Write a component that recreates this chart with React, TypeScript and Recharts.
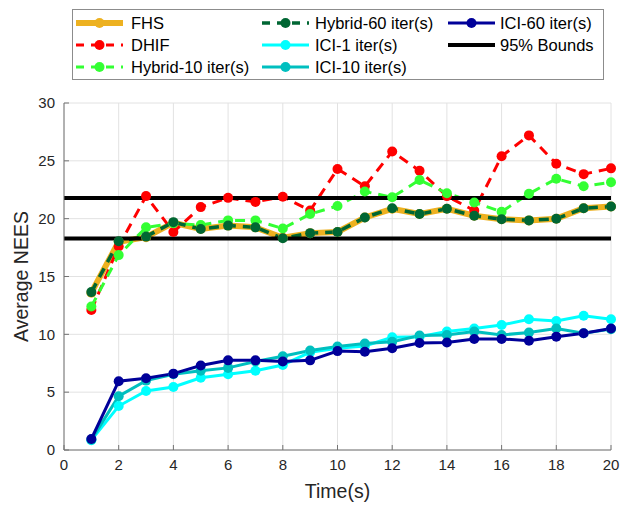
import { LineChart, Line, XAxis, YAxis, CartesianGrid, ReferenceLine } from 'recharts';

const time = [1, 2, 3, 4, 5, 6, 7, 8, 9, 10, 11, 12, 13, 14, 15, 16, 17, 18, 19, 20];

const fhs = [13.6, 18.0, 18.4, 19.65, 19.1, 19.4, 19.25, 18.35, 18.75, 18.85, 20.1, 20.85, 20.4, 20.85, 20.25, 19.95, 19.85, 20.0, 20.9, 21.05];
const dhif = [12.1, 17.6, 21.95, 18.85, 21.0, 21.8, 21.45, 21.9, 20.7, 24.3, 22.8, 25.8, 24.15, 21.95, 20.7, 25.4, 27.2, 24.75, 23.85, 24.35];
const hybrid10 = [12.4, 16.85, 19.25, 19.6, 19.45, 19.85, 19.85, 19.15, 20.4, 21.1, 22.35, 21.85, 23.35, 22.2, 21.4, 20.6, 22.15, 23.45, 22.8, 23.15];
const hybrid60 = [13.65, 18.05, 18.45, 19.7, 19.1, 19.4, 19.25, 18.3, 18.75, 18.85, 20.1, 20.9, 20.4, 20.85, 20.25, 19.95, 19.85, 20.0, 20.9, 21.05];
const ici1 = [0.85, 3.8, 5.1, 5.45, 6.25, 6.55, 6.85, 7.35, 8.45, 8.8, 9.0, 9.75, 9.8, 10.25, 10.5, 10.8, 11.3, 11.15, 11.6, 11.3];
const ici10 = [0.9, 4.65, 6.0, 6.55, 6.85, 7.1, 7.65, 8.1, 8.6, 8.95, 9.2, 9.35, 9.9, 9.95, 10.25, 9.95, 10.15, 10.5, 10.1, 10.45];
const ici60 = [0.95, 5.95, 6.2, 6.6, 7.3, 7.75, 7.75, 7.65, 7.75, 8.55, 8.5, 8.8, 9.25, 9.3, 9.6, 9.6, 9.45, 9.8, 10.1, 10.5];

const upperBound = 21.78;
const lowerBound = 18.28;

const xTicks = [0, 2, 4, 6, 8, 10, 12, 14, 16, 18, 20];
const yTicks = [0, 5, 10, 15, 20, 25, 30];

const data = time.map((t, i) => ({
  t,
  fhs: fhs[i],
  dhif: dhif[i],
  hybrid10: hybrid10[i],
  hybrid60: hybrid60[i],
  ici1: ici1[i],
  ici10: ici10[i],
  ici60: ici60[i],
}));

const FONT = '"Liberation Sans", Arial, Helvetica, sans-serif';
const AXIS = '#737373';
const TEXT = '#262626';

type Item = { name: string; color: string; width: number; dash?: string; marker: boolean };

const legendCols: Item[][] = [
  [
    { name: 'FHS', color: '#EDB120', width: 6, marker: true },
    { name: 'DHIF', color: '#FF0000', width: 3, dash: '8 7', marker: true },
    { name: 'Hybrid-10 iter(s)', color: '#33FF33', width: 3, dash: '8 7', marker: true },
  ],
  [
    { name: 'Hybrid-60 iter(s)', color: '#006633', width: 3.5, dash: '8 7', marker: true },
    { name: 'ICI-1 iter(s)', color: '#00FFFF', width: 3, marker: true },
    { name: 'ICI-10 iter(s)', color: '#00BFBF', width: 3, marker: true },
  ],
  [
    { name: 'ICI-60 iter(s)', color: '#000099', width: 3, marker: true },
    { name: '95% Bounds', color: '#000000', width: 4, marker: false },
  ],
];

const colX = [
  { line: 76, text: 131 },
  { line: 262, text: 315 },
  { line: 448, text: 500 },
];
const rowY = [23, 45, 67];

function Legend() {
  return (
    <div
      style={{
        position: 'absolute',
        left: 72,
        top: 9,
        width: 530,
        height: 69,
        border: '1px solid #8c8c8c',
        background: '#fff',
      }}
    >
      {legendCols.map((col, c) =>
        col.map((it, r) => (
          <div key={it.name}>
            <svg
              width={48}
              height={14}
              style={{ position: 'absolute', left: colX[c].line - 73, top: rowY[r] - 10 - 7 }}
            >
              <line x1={0} y1={7} x2={47} y2={7} stroke={it.color} strokeWidth={it.width} strokeDasharray={it.dash} />
              {it.marker && <circle cx={23.5} cy={7} r={5} fill={it.color} />}
            </svg>
            <span
              style={{
                position: 'absolute',
                left: colX[c].text - 73,
                top: rowY[r] - 10 - 10,
                fontSize: 16.5,
                lineHeight: '20px',
                color: '#000',
                whiteSpace: 'nowrap',
              }}
            >
              {it.name}
            </span>
          </div>
        ))
      )}
    </div>
  );
}

const dot = (color: string) => ({ r: 5, fill: color, stroke: color, strokeWidth: 0 });

export default function App() {
  return (
    <div style={{ position: 'absolute', left: 0, top: 0, width: 621, height: 505, fontFamily: FONT, background: '#fff' }}>
      <LineChart width={621} height={505} data={data} margin={{ top: 103, right: 10, bottom: 0, left: 0 }}>
        <CartesianGrid stroke="#e2e2e2" strokeWidth={1} />
        <XAxis
          dataKey="t"
          type="number"
          domain={[0, 20]}
          ticks={xTicks}
          height={55}
          interval={0}
          tickSize={-5}
          tickMargin={14}
          stroke={AXIS}
          tick={{ fill: TEXT, fontSize: 15 }}
          label={{ value: 'Time(s)', position: 'insideBottom', offset: 7, fill: TEXT, fontSize: 19.5 }}
        />
        <XAxis
          xAxisId="top"
          orientation="top"
          dataKey="t"
          type="number"
          domain={[0, 20]}
          ticks={xTicks}
          height={0}
          tickSize={-5}
          tick={false}
          stroke={AXIS}
        />
        <YAxis
          type="number"
          domain={[0, 30]}
          ticks={yTicks}
          width={64}
          interval={0}
          tickSize={-5}
          tickMargin={14}
          stroke={AXIS}
          tick={{ fill: TEXT, fontSize: 15 }}
          label={{ value: 'Average NEES', angle: -90, position: 'insideLeft', offset: 21, fill: TEXT, fontSize: 19.5, textAnchor: 'middle' }}
        />
        <YAxis
          yAxisId="right"
          orientation="right"
          type="number"
          domain={[0, 30]}
          ticks={yTicks}
          width={0}
          tickSize={-5}
          tick={false}
          stroke={AXIS}
        />
        <Line dataKey="fhs" stroke="#EDB120" strokeWidth={6} dot={dot('#EDB120')} isAnimationActive={false} />
        <Line dataKey="dhif" stroke="#FF0000" strokeWidth={3} strokeDasharray="10 7" dot={dot('#FF0000')} isAnimationActive={false} />
        <Line dataKey="hybrid10" stroke="#33FF33" strokeWidth={3} strokeDasharray="10 7" dot={dot('#33FF33')} isAnimationActive={false} />
        <Line dataKey="hybrid60" stroke="#006633" strokeWidth={3.5} strokeDasharray="10 7" dot={dot('#006633')} isAnimationActive={false} />
        <Line dataKey="ici1" stroke="#00FFFF" strokeWidth={3} dot={dot('#00FFFF')} isAnimationActive={false} />
        <Line dataKey="ici10" stroke="#00BFBF" strokeWidth={3} dot={dot('#00BFBF')} isAnimationActive={false} />
        <Line dataKey="ici60" stroke="#000099" strokeWidth={3} dot={dot('#000099')} isAnimationActive={false} />
        <ReferenceLine y={upperBound} stroke="#000" strokeWidth={4} />
        <ReferenceLine y={lowerBound} stroke="#000" strokeWidth={4} />
      </LineChart>
      <Legend />
    </div>
  );
}
